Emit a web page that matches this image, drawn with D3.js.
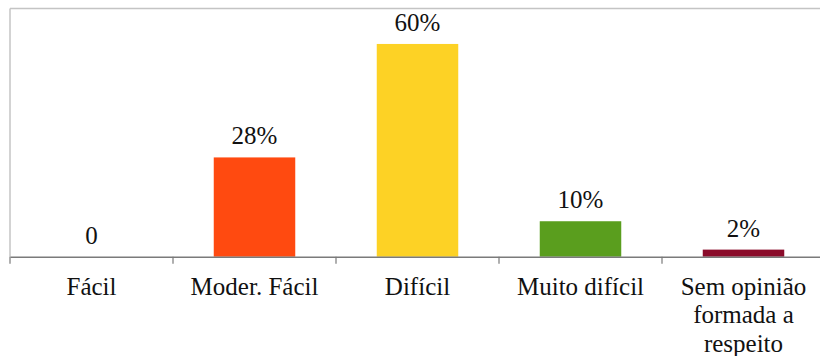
<!DOCTYPE html>
<html>
<head>
<meta charset="utf-8">
<script src="https://cdn.jsdelivr.net/npm/d3@7"></script>
<style>
  html, body { margin: 0; padding: 0; background: #fff; }
  svg { display: block; }
</style>
</head>
<body>
<svg id="chart" width="820" height="356"></svg>
<script>
// Difficulty ratings (percent of respondents)
const categories = ["Fácil", "Moder. Fácil", "Difícil", "Muito difícil", "Sem opinião formada a respeito"];
const categoryLines = [["Fácil"], ["Moder. Fácil"], ["Difícil"], ["Muito difícil"], ["Sem opinião", "formada a", "respeito"]];
const values = [0, 28, 60, 10, 2];
const valueLabels = ["0", "28%", "60%", "10%", "2%"];
const colors = ["#FF4A10", "#FF4A10", "#FDD225", "#5A9E1E", "#8A0B2A"];
const yMax = 70;

const svg = d3.select("#chart");
const W = 820;
const x0 = 10, x1 = W + 5;
const yTop = 8.5, yBase = 256.7;
const serif = '"Liberation Serif"';

const x = d3.scaleBand().domain(categories).range([x0, x1]).paddingInner(0).paddingOuter(0);
const y = d3.scaleLinear().domain([0, yMax]).range([yBase, yTop]);
const barW = x.bandwidth() * 0.5;

// plot frame (top and left edges)
svg.append("line").attr("x1", x0).attr("x2", x1).attr("y1", y(yMax)).attr("y2", y(yMax))
  .attr("stroke", "#c4c4c4").attr("stroke-width", 1.5);
svg.append("line").attr("x1", x0).attr("x2", x0).attr("y1", y(yMax)).attr("y2", y(0))
  .attr("stroke", "#c4c4c4").attr("stroke-width", 1.5);

// bars
svg.selectAll("rect.bar").data(categories).enter().append("rect")
  .attr("class", "bar")
  .attr("x", d => x(d) + (x.bandwidth() - barW) / 2)
  .attr("width", barW)
  .attr("y", (d, i) => y(values[i]))
  .attr("height", (d, i) => y(0) - y(values[i]))
  .attr("fill", (d, i) => colors[i]);

// category axis
const axis = d3.axisBottom(x).tickSize(0).tickFormat("");
const gAxis = svg.append("g").attr("transform", `translate(0,${yBase})`).call(axis);
gAxis.select(".domain").attr("stroke", "#7a7a7a").attr("stroke-width", 1.5);
// tick marks at category boundaries
const bounds = categories.map(c => x(c));
svg.selectAll("line.tick").data(bounds).enter().append("line")
  .attr("class", "tick")
  .attr("x1", d => d).attr("x2", d => d)
  .attr("y1", yBase).attr("y2", yBase + 7)
  .attr("stroke", "#7a7a7a").attr("stroke-width", 1.2);

// category labels
categories.forEach((c, i) => {
  const cx = x(c) + x.bandwidth() / 2;
  const t = svg.append("text")
    .style("font-family", serif)
    .attr("x", cx)
    .attr("y", 294.5)
    .attr("text-anchor", "middle")
    .attr("font-size", 25)
    .attr("fill", "#111");
  categoryLines[i].forEach((line, j) => {
    t.append("tspan").attr("x", cx).attr("dy", j === 0 ? 0 : 28.5).text(line);
  });
});

// value labels
svg.selectAll("text.val").data(categories).enter().append("text")
  .attr("class", "val")
  .style("font-family", serif)
  .attr("x", d => x(d) + x.bandwidth() / 2)
  .attr("y", (d, i) => y(values[i]) - 13)
  .attr("text-anchor", "middle")
  .attr("font-size", 25)
  .attr("fill", "#111")
  .text((d, i) => valueLabels[i]);
</script>
</body>
</html>
